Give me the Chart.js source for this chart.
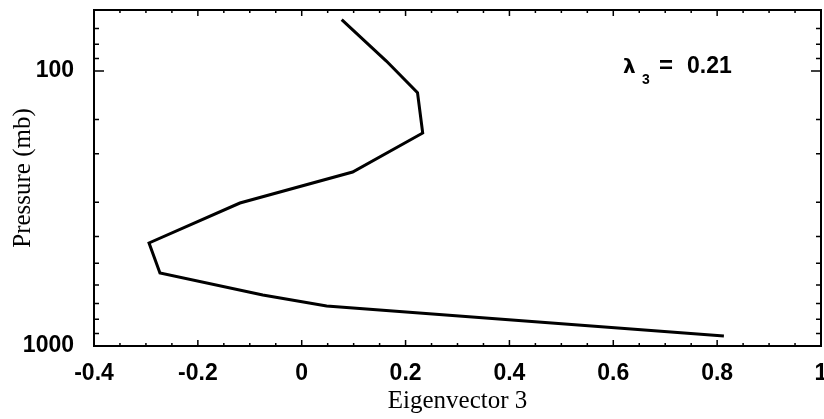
<!DOCTYPE html>
<html>
<head>
<meta charset="utf-8">
<script src="https://cdn.jsdelivr.net/npm/chart.js@4/dist/chart.umd.min.js"></script>
<style>
html,body{margin:0;padding:0;background:#fff;}
#wrap{width:824px;height:419px;}
</style>
</head>
<body>
<div id="wrap"><canvas id="c" width="824" height="419"></canvas></div>
<script>
// Data
const eigenvector3 = [0.077, 0.163, 0.223, 0.233, 0.098, -0.119, -0.294, -0.273, -0.075, 0.048, 0.813];
const pressureMb   = [65, 92, 120, 168, 233, 302, 422, 543, 652, 715, 919];
const xTickLabels = ['-0.4', '-0.2', '0', '0.2', '0.4', '0.6', '0.8', '1'];
const yTickLabels = ['100', '1000'];
const annotationSymbol = 'λ';
const annotationSub = '3';
const annotationEq = '=';
const annotationValue = '0.21';
const xTitle = 'Eigenvector 3';
const yTitle = 'Pressure (mb)';

const points = eigenvector3.map((v, i) => ({x: v, y: pressureMb[i]}));

function fmtX(v) {
  const r = Math.round(v * 100) / 100;
  return String(r);
}

const framePlugin = {
  id: 'frame',
  afterDraw(chart) {
    const {ctx, chartArea: a, scales} = chart;
    ctx.save();
    ctx.strokeStyle = '#000';
    ctx.lineWidth = 2;
    ctx.strokeRect(a.left, a.top, a.right - a.left, a.bottom - a.top);
    ctx.lineWidth = 1.5;
    // x ticks (bottom and top), inward
    scales.x.ticks.forEach(t => {
      const px = scales.x.getPixelForValue(t.value);
      const major = xTickLabels.includes(fmtX(t.value));
      const len = major ? 6 : 3;
      ctx.beginPath();
      ctx.moveTo(px, a.bottom); ctx.lineTo(px, a.bottom - len);
      ctx.moveTo(px, a.top); ctx.lineTo(px, a.top + len);
      ctx.stroke();
    });
    // y ticks (left and right), inward
    scales.y.ticks.forEach(t => {
      const py = scales.y.getPixelForValue(t.value);
      const major = yTickLabels.includes(String(t.value));
      const len = major ? 10 : 5;
      ctx.beginPath();
      ctx.moveTo(a.left, py); ctx.lineTo(a.left + len, py);
      ctx.moveTo(a.right, py); ctx.lineTo(a.right - len, py);
      ctx.stroke();
    });
    // annotation
    ctx.fillStyle = '#000';
    ctx.textBaseline = 'alphabetic';
    ctx.textAlign = 'left';
    const ax = a.left + 529, ay = a.top + 63;
    ctx.font = 'bold 20px "DejaVu Sans"';
    ctx.fillText(annotationSymbol, ax, ay);
    ctx.font = 'bold 14px "Liberation Sans"';
    ctx.fillText(annotationSub, ax + 19, ay + 11);
    ctx.font = 'bold 24px "Liberation Sans"';
    ctx.fillText(annotationEq, ax + 36, ay);
    ctx.font = 'bold 23px "Liberation Sans"';
    ctx.fillText(annotationValue, ax + 64, ay);
    ctx.restore();
  }
};

new Chart(document.getElementById('c'), {
  type: 'line',
  data: {
    datasets: [{
      data: points,
      borderColor: '#000',
      borderWidth: 3,
      pointRadius: 0,
      tension: 0,
      fill: false
    }]
  },
  options: {
    responsive: false,
    animation: false,
    devicePixelRatio: 1,
    layout: {padding: {top: 10, right: 3, left: 0, bottom: 0}},
    plugins: {legend: {display: false}, tooltip: {enabled: false}},
    scales: {
      x: {
        type: 'linear',
        min: -0.4, max: 1,
        grid: {display: false, drawTicks: false},
        border: {display: false},
        ticks: {
          stepSize: 0.05,
          autoSkip: false,
          maxRotation: 0,
          padding: 14,
          color: '#000',
          font: {family: '"Liberation Sans"', size: 23, weight: 'bold'},
          callback: (v) => { const s = fmtX(v); return xTickLabels.includes(s) ? s : ''; }
        },
        title: {
          display: true, text: xTitle, color: '#000',
          font: {family: '"Liberation Serif"', size: 25, weight: 'normal'},
          padding: {top: 0, bottom: 3}
        },
        afterFit(s) { s.height = 73; s.paddingLeft = 0; s.paddingRight = 0; }
      },
      y: {
        type: 'logarithmic',
        reverse: true,
        min: 60, max: 1000,
        grid: {display: false, drawTicks: false},
        border: {display: false},
        ticks: {
          autoSkip: false,
          padding: 20,
          color: '#000',
          font: {family: '"Liberation Sans"', size: 23, weight: 'bold'},
          callback: (v) => yTickLabels.includes(String(v)) ? String(v) : ''
        },
        title: {
          display: true, text: yTitle, color: '#000',
          font: {family: '"Liberation Serif"', size: 25, weight: 'normal'},
          padding: {top: 8, bottom: 0}
        },
        afterFit(s) { s.width = 94; s.paddingTop = 0; s.paddingBottom = 0; }
      }
    }
  },
  plugins: [framePlugin]
});
</script>
</body>
</html>
